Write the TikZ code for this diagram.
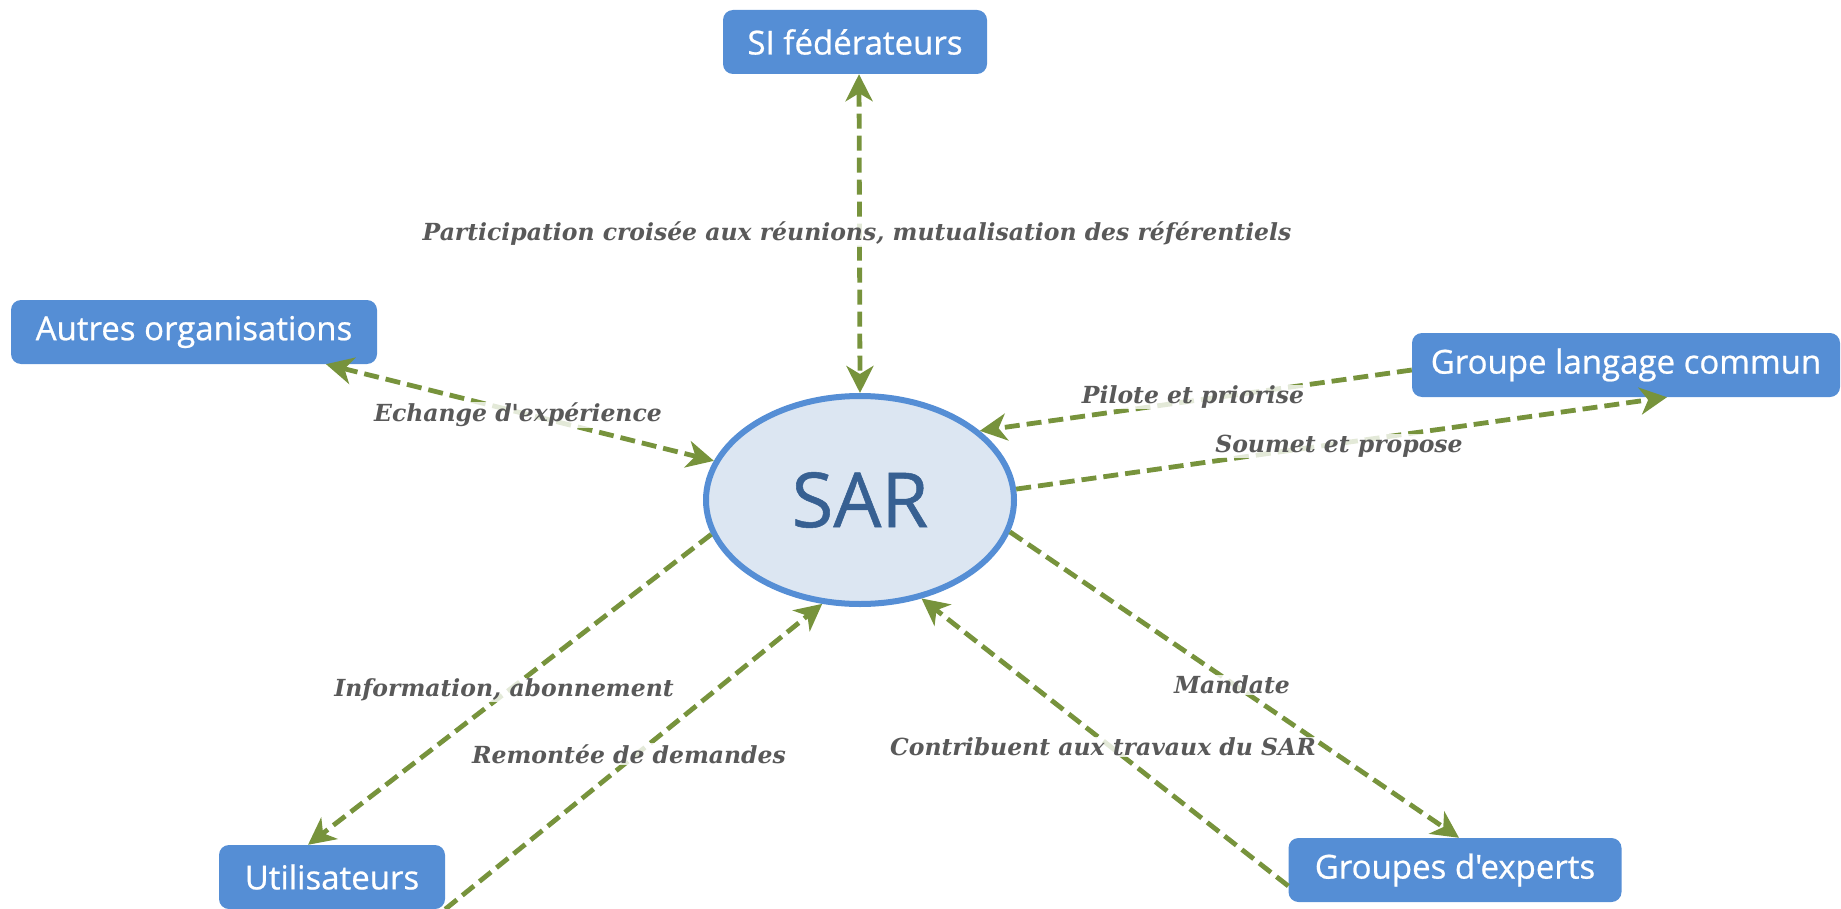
\documentclass[tikz,border=0pt]{standalone}
\usepackage{fontspec}
\usetikzlibrary{arrows.meta,shapes.geometric}
\newfontfamily\boxfont[FakeBold=0.7]{Open Sans}
\newfontfamily\lblfont{DejaVu Serif}
\definecolor{boxblue}{HTML}{558ED5}
\definecolor{ellfill}{HTML}{DCE6F2}
\definecolor{sartext}{HTML}{376092}
\definecolor{arrowgreen}{HTML}{77933C}
\definecolor{lblgray}{HTML}{595959}
\begin{document}
\begin{tikzpicture}[x=1pt,y=-1pt,
  box/.style={rectangle, rounded corners=10pt, fill=boxblue, text=white,
    font=\boxfont\fontsize{33}{38}\selectfont, minimum height=64pt, inner sep=0pt},
  lbl/.style={font=\lblfont\bfseries\itshape\fontsize{23.5}{28}\selectfont, text=lblgray,
    fill=white, fill opacity=0.8, text opacity=1, inner sep=1pt},
  conn/.style={draw=arrowgreen, line width=4.8pt, dash pattern=on 15pt off 7pt},
  >={Stealth[length=27pt,width=27pt,inset=8pt]}
]
\useasboundingbox (0,0) rectangle (1841,909);

\node[ellipse, draw=boxblue, line width=6pt, fill=ellfill, minimum width=308pt,
  minimum height=208pt, inner sep=0pt, text=sartext,
  font=\boxfont\fontsize{76}{84}\selectfont] (SAR) at (860,500) {SAR};

\node[box, minimum width=264pt] (SI) at (855,42) {SI fédérateurs};
\node[box, minimum width=366pt] (AO) at (194,332) {Autres organisations};
\node[box, minimum width=428pt] (GLC) at (1626,365) {Groupe langage commun};
\node[box, minimum width=226pt] (U) at (332,877) {Utilisateurs};
\node[box, minimum width=333pt] (GE) at (1455,870) {Groupes d'experts};

\draw[conn,<->] ([xshift=4pt]SI.south) -- (SAR.north);
\draw[conn,<->] ([xshift=132pt]AO.south) -- (SAR.165);
\draw[conn,->] ([yshift=-5pt]GLC.west) -- (SAR.30);
\draw[conn,->] (SAR.4) -- ([xshift=41pt]GLC.south);
\draw[conn,->] (SAR.193) -- ([xshift=-24pt]U.north);
\draw[conn,->] (U.south east) -- (SAR.250);
\draw[conn,->] (SAR.348) -- ([xshift=4pt]GE.north);
\draw[conn,->] ([yshift=-16pt]GE.west) -- (SAR.302);

\node[lbl] (l1) at (857,234) {Participation croisée aux réunions, mutualisation des référentiels};
\node[lbl] (l2) at (518,415) {Echange d'expérience};
\node[lbl] (l3) at (1193,397) {Pilote et priorise};
\node[lbl] (l4) at (1339,446) {Soumet et propose};
\node[lbl] (l5) at (504,690) {Information, abonnement};
\node[lbl] (l6) at (629,754) {Remontée de demandes};
\node[lbl] (l7) at (1232,685) {Mandate};
\node[lbl] (l8) at (1103,747) {Contribuent aux travaux du SAR};
\end{tikzpicture}
\end{document}
